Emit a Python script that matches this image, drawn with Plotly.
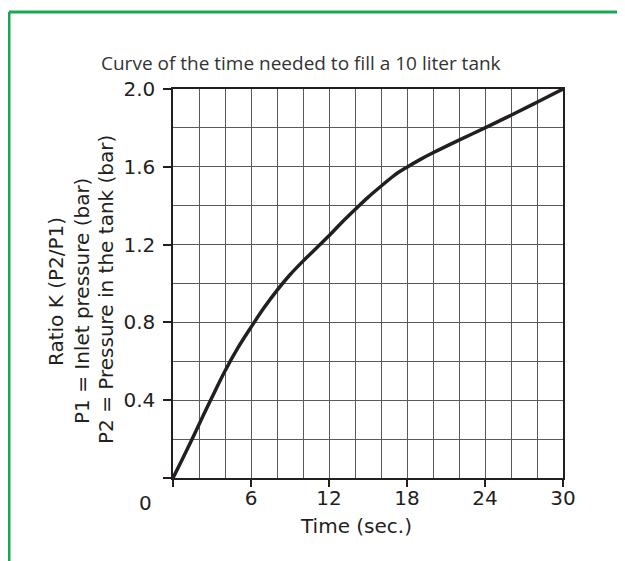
import plotly.graph_objects as go

# time needed to fill a 10 liter tank
time_sec = [0, 1, 2, 3, 4, 5, 6, 7, 8, 9, 10, 11, 12, 13, 14, 15, 16, 17, 18, 19, 20, 22, 24, 26, 28, 30]
ratio_k = [0, 0.135, 0.275, 0.415, 0.55, 0.67, 0.775, 0.875, 0.965, 1.045, 1.115, 1.18, 1.245,
           1.315, 1.38, 1.443, 1.50, 1.555, 1.598, 1.637, 1.672, 1.737, 1.80, 1.865, 1.932, 2.0]

x_ticks = [0, 6, 12, 18, 24, 30]
x_ticktext = ['', '6', '12', '18', '24', '30']
y_ticks = [0, 0.4, 0.8, 1.2, 1.6, 2.0]
y_ticktext = ['', '0.4', '0.8', '1.2', '1.6', '2.0']

title_text = 'Curve of the time needed to fill a 10 liter tank'
x_title = 'Time (sec.)'
y_title_lines = ['Ratio K (P2/P1)', 'P1 = Inlet pressure (bar)', 'P2 = Pressure in the tank (bar)']

# page has an 8px body margin, so the figure is 8px smaller than the window
OFF = 8
W, H = 625 - OFF, 561 - OFF
L, R, T, B = 165, 62, 81, 83
GREEN = '#16a94f'
GRID = '#5a5a5a'
TXT = '#231f20'
TICK_FONT = dict(family='DejaVu Sans', size=20, color=TXT)


def px(x):
    # page pixel -> paper x
    return (x - OFF - L) / (W - L - R)


def py(y):
    # page pixel -> paper y
    return (H - B - (y - OFF)) / (H - T - B)


fig = go.Figure()
fig.add_trace(go.Scatter(x=time_sec, y=ratio_k, mode='lines',
                         line=dict(color=TXT, width=3.5, shape='spline', smoothing=1.0),
                         cliponaxis=False, showlegend=False))

fig.update_xaxes(range=[0, 30], tickmode='array', tickvals=x_ticks, ticktext=x_ticktext,
                 ticks='outside', ticklen=7, tickcolor=TXT, tickwidth=1.5,
                 showgrid=True, gridcolor=GRID, gridwidth=1,
                 minor=dict(tickmode='linear', tick0=0, dtick=2, showgrid=True, gridcolor=GRID, gridwidth=1),
                 showline=True, linecolor=TXT, linewidth=1.5, mirror=True,
                 tickfont=TICK_FONT, ticklabelstandoff=-6, zeroline=False)
fig.update_yaxes(range=[0, 2.0], tickmode='array', tickvals=y_ticks, ticktext=y_ticktext,
                 ticks='outside', ticklen=8, tickcolor=TXT, tickwidth=1.5,
                 showgrid=True, gridcolor=GRID, gridwidth=1,
                 minor=dict(tickmode='linear', tick0=0, dtick=0.2, showgrid=True, gridcolor=GRID, gridwidth=1),
                 showline=True, linecolor=TXT, linewidth=1.5, mirror=True,
                 tickfont=TICK_FONT, ticklabelstandoff=4, zeroline=False)

annots = [
    dict(text=title_text, x=px(301), y=py(63), font=dict(family='Open Sans', size=19, color='#333333')),
    dict(text=x_title, x=px(356), y=py(526), font=TICK_FONT),
    dict(text='0', x=px(145), y=py(503), font=TICK_FONT),
    dict(text=y_title_lines[0], x=px(56), y=py(292), textangle=-90, font=TICK_FONT),
    dict(text=y_title_lines[1], x=px(82), y=py(301), textangle=-90, font=TICK_FONT),
    dict(text=y_title_lines[2], x=px(106), y=py(290), textangle=-90, font=TICK_FONT),
]
for a in annots:
    fig.add_annotation(xref='paper', yref='paper', showarrow=False,
                       xanchor='center', yanchor='middle', **a)

# green frame, top and left edges
fig.add_shape(type='line', xref='paper', yref='paper', x0=px(9), y0=py(12), x1=px(640), y1=py(12),
              line=dict(color=GREEN, width=3))
fig.add_shape(type='line', xref='paper', yref='paper', x0=px(9), y0=py(12), x1=px(9), y1=py(580),
              line=dict(color=GREEN, width=3))

fig.update_layout(width=W, height=H, margin=dict(l=L, r=R, t=T, b=B),
                  paper_bgcolor='white', plot_bgcolor='white')
fig.write_html('out.html')
